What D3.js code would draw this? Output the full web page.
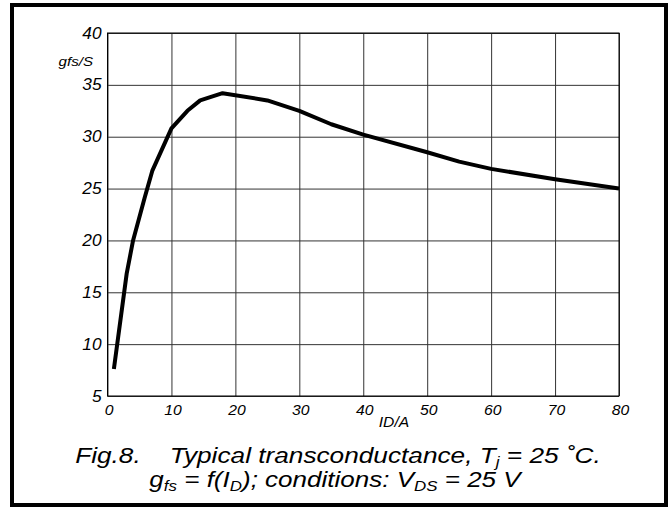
<!DOCTYPE html>
<html>
<head>
<meta charset="utf-8">
<script src="https://cdn.jsdelivr.net/npm/d3@7"></script>
<style>
  body { margin: 0; background: #fff; }
  text { font-family: "Liberation Sans", Arial, sans-serif; font-style: italic; fill: #000; }
</style>
</head>
<body>
<div id="chart"></div>
<script>
// drain current ID in A
var idValues = [1, 3, 4, 5.8, 7, 10, 12.5, 14.5, 18, 25, 30, 35, 40, 50, 55, 60, 70, 80];
// transconductance gfs in S
var gfsValues = [7.6, 16.8, 20, 24.1, 26.7, 30.8, 32.5, 33.5, 34.2, 33.5, 32.5, 31.2, 30.2, 28.5, 27.6, 26.9, 25.9, 25];
var xTicks = [0, 10, 20, 30, 40, 50, 60, 70, 80];
var yTicks = [5, 10, 15, 20, 25, 30, 35, 40];

var W = 669, H = 508;
var margin = {top: 33, right: 50, bottom: 112, left: 107.5},
    width = W - margin.left - margin.right,
    height = H - margin.top - margin.bottom;

var svg = d3.select('#chart').append('svg')
    .attr('width', W)
    .attr('height', H);

// outer frame
svg.append('rect')
    .attr('x', 12).attr('y', 5)
    .attr('width', 654).attr('height', 500)
    .attr('fill', '#fff')
    .attr('stroke', '#000')
    .attr('stroke-width', 4);

var g = svg.append('g')
    .attr('transform', 'translate(' + margin.left + ',' + margin.top + ')');

var x = d3.scaleLinear().domain([0, 80]).range([0, width]);
var y = d3.scaleLinear().domain([5, 40]).range([height, 0]);

// grid
g.append('g')
    .attr('class', 'grid')
    .attr('transform', 'translate(0,' + height + ')')
    .call(d3.axisBottom(x).tickValues(xTicks).tickSize(-height).tickFormat(''))
    .call(s => s.select('.domain').remove());
g.append('g')
    .attr('class', 'grid')
    .call(d3.axisLeft(y).tickValues(yTicks).tickSize(-width).tickFormat(''))
    .call(s => s.select('.domain').remove());
g.selectAll('.grid line').attr('stroke', '#333').attr('stroke-width', 1);

g.append('rect')
    .attr('width', width).attr('height', height)
    .attr('fill', 'none').attr('stroke', '#000').attr('stroke-width', 1);

// tick labels (the original font runs a bit wide, so stretch horizontally)
var xa = g.append('g')
    .attr('transform', 'translate(0,' + height + ')')
    .call(d3.axisBottom(x).tickValues(xTicks).tickSize(0).tickPadding(8));
xa.select('.domain').remove();
xa.selectAll('text')
    .attr('font-family', null)
    .attr('font-size', 15)
    .attr('x', 1)
    .attr('transform', 'scale(1.05,1)');

var ya = g.append('g')
    .call(d3.axisLeft(y).tickValues(yTicks).tickSize(0));
ya.select('.domain').remove();
ya.selectAll('text')
    .attr('font-family', null)
    .attr('font-size', 16)
    .attr('x', -6 / 1.08)
    .attr('transform', 'scale(1.08,1)');

// axis titles
svg.append('text')
    .attr('transform', 'translate(93,66) scale(1.12,1)')
    .attr('text-anchor', 'end')
    .attr('font-size', 13.5)
    .text('gfs/S');
svg.append('text')
    .attr('transform', 'translate(394,427) scale(1.12,1)')
    .attr('text-anchor', 'middle')
    .attr('font-size', 14)
    .text('ID/A');

// curve
var line = d3.line()
    .x((d, i) => x(idValues[i]))
    .y((d, i) => y(gfsValues[i]))
    .curve(d3.curveLinear);
g.append('path')
    .datum(gfsValues)
    .attr('fill', 'none')
    .attr('stroke', '#000')
    .attr('stroke-width', 4)
    .attr('stroke-linejoin', 'round')
    .attr('stroke-linecap', 'butt')
    .attr('d', line);

// caption
var cap1 = svg.append('text')
    .attr('transform', 'translate(338,463) scale(1.22,1)')
    .attr('text-anchor', 'middle')
    .attr('font-size', 21.5)
    .style('white-space', 'pre');
cap1.append('tspan').text('Fig.8.    Typical transconductance, T');
cap1.append('tspan').attr('font-size', 14).attr('dy', 4).text('j');
cap1.append('tspan').attr('dy', -4).text(' = 25 \u02DAC.');

var cap2 = svg.append('text')
    .attr('transform', 'translate(335,487) scale(1.21,1)')
    .attr('text-anchor', 'middle')
    .attr('font-size', 21.5)
    .style('white-space', 'pre');
cap2.append('tspan').text('g');
cap2.append('tspan').attr('font-size', 14).attr('dy', 4).text('fs');
cap2.append('tspan').attr('dy', -4).text(' = f(I');
cap2.append('tspan').attr('font-size', 14).attr('dy', 4).text('D');
cap2.append('tspan').attr('dy', -4).text('); conditions: V');
cap2.append('tspan').attr('font-size', 14).attr('dy', 4).text('DS');
cap2.append('tspan').attr('dy', -4).text(' = 25 V');
</script>
</body>
</html>
